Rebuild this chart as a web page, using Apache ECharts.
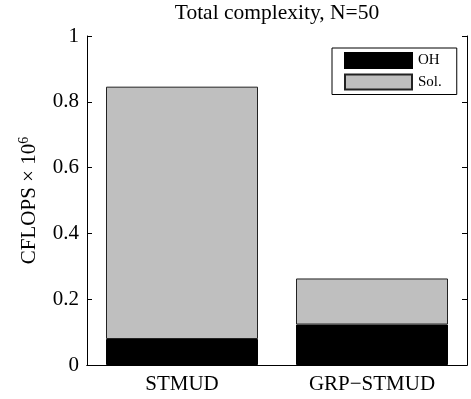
<!DOCTYPE html>
<html>
<head>
<meta charset="utf-8">
<script src="https://cdn.jsdelivr.net/npm/echarts@6/dist/echarts.min.js"></script>
<style>html,body{margin:0;padding:0;background:#fff;}#c{width:471px;height:399px;}</style>
</head>
<body>
<div id="c"></div>
<script>
const categories = ['STMUD', 'GRP\u2212STMUD'];
const ohValues = [0.079, 0.123];
const solValues = [0.767, 0.140];
const yTicks = [0, 0.2, 0.4, 0.6, 0.8, 1];

const FONT = '"Liberation Serif", "Times New Roman", serif';
const chart = echarts.init(document.getElementById('c'), null, {renderer: 'canvas'});
chart.setOption({
  animation: false,
  backgroundColor: '#fff',
  title: {
    text: 'Total complexity, N=50',
    left: 277, top: 2, textAlign: 'center', padding: 0,
    textStyle: {fontFamily: FONT, fontSize: 21.5, fontWeight: 'normal', color: '#000'}
  },
  legend: {
    data: ['OH', 'Sol.'],
    orient: 'vertical',
    left: 332, top: 48,
    icon: 'rect',
    itemWidth: 67, itemHeight: 15, itemGap: 4.5,
    padding: [4, 15, 4, 12],
    borderColor: '#000', borderWidth: 1, borderRadius: 0,
    textStyle: {fontFamily: FONT, fontSize: 15, lineHeight: 15, color: '#000', padding: [0, 0, 0, 1]}
  },
  grid: {left: 87, right: 4, top: 36, bottom: 34, containLabel: false},
  xAxis: [{
    type: 'category', data: categories, position: 'bottom',
    axisLine: {lineStyle: {color: '#000', width: 1}},
    axisTick: {inside: true, alignWithLabel: true, length: 5, lineStyle: {color: '#000'}},
    axisLabel: {fontFamily: FONT, fontSize: 21, color: '#000', margin: 9}
  }, {
    type: 'category', data: categories, position: 'top',
    axisLine: {lineStyle: {color: '#000', width: 1}},
    axisTick: {inside: true, alignWithLabel: true, length: 5, lineStyle: {color: '#000'}},
    axisLabel: {show: false}
  }],
  yAxis: [{
    type: 'value', min: 0, max: 1, interval: 0.2, position: 'left',
    name: '{a|CFLOPS \u00d7 10}{s|6}',
    nameLocation: 'middle', nameGap: 46, nameRotate: 90,
    nameTextStyle: {
      rich: {
        a: {fontFamily: FONT, fontSize: 21, color: '#000'},
        s: {fontFamily: FONT, fontSize: 14, color: '#000', verticalAlign: 'top', padding: [0, 0, 10, 0]}
      }
    },
    axisLine: {show: true, lineStyle: {color: '#000', width: 1}},
    axisTick: {show: true, inside: true, length: 5, lineStyle: {color: '#000'}},
    splitLine: {show: false},
    axisLabel: {fontFamily: FONT, fontSize: 21, color: '#000', margin: 8,
      formatter: v => yTicks.includes(Math.round(v * 10) / 10) ? String(Math.round(v * 10) / 10) : ''}
  }, {
    type: 'value', min: 0, max: 1, interval: 0.2, position: 'right',
    axisLine: {show: true, lineStyle: {color: '#000', width: 1}},
    axisTick: {show: true, inside: true, length: 5, lineStyle: {color: '#000'}},
    splitLine: {show: false},
    axisLabel: {show: false}
  }],
  series: [{
    name: 'OH', type: 'bar', stack: 'total', data: ohValues, barWidth: '80%',
    itemStyle: {color: '#000', borderColor: '#000', borderWidth: 1}
  }, {
    name: 'Sol.', type: 'bar', stack: 'total', data: solValues, barWidth: '80%',
    itemStyle: {color: '#bfbfbf', borderColor: '#222', borderWidth: 1}
  }]
});
</script>
</body>
</html>
